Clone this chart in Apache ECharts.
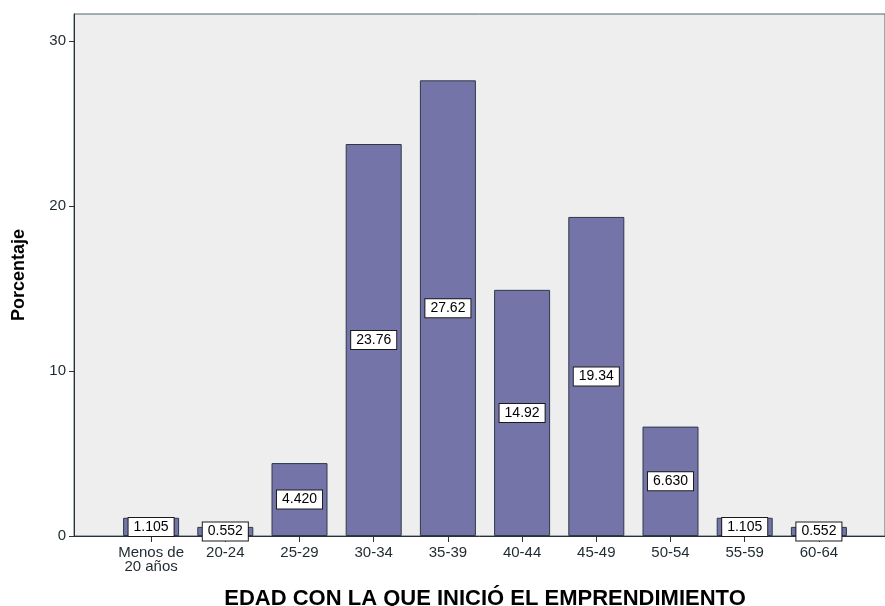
<!DOCTYPE html>
<html>
<head>
<meta charset="utf-8">
<script src="https://cdn.jsdelivr.net/npm/echarts@6/dist/echarts.min.js"></script>
<style>
  html, body { margin: 0; padding: 0; background: #ffffff; }
  #chart { width: 885px; height: 606px; }
</style>
</head>
<body>
<div id="chart"></div>
<script>
// Age groups at which the venture was started
const categories = ['Menos de\n20 años', '20-24', '25-29', '30-34', '35-39', '40-44', '45-49', '50-54', '55-59', '60-64'];
// Percentage of respondents in each group
const percentages = [1.105, 0.552, 4.420, 23.76, 27.62, 14.92, 19.34, 6.630, 1.105, 0.552];
// Y axis tick values
const yTicks = [0, 10, 20, 30];

const yMax = 31.64;
const fontFamily = 'Arial, "Liberation Sans", sans-serif';

// four significant digits, SPSS style
function fmt(v) {
  return v >= 10 ? v.toFixed(2) : v.toFixed(3);
}

const chart = echarts.init(document.getElementById('chart'));
chart.setOption({
  animation: false,
  backgroundColor: '#ffffff',
  grid: [
    {
      left: 74, top: 14, right: 0, bottom: 70, outerBoundsMode: 'none', containLabel: false,
      show: true, backgroundColor: '#eeeeee', borderColor: '#4b6470', borderWidth: 1
    },
    { left: 114, width: 742, top: 14, bottom: 70, outerBoundsMode: 'none', containLabel: false }
  ],
  xAxis: [
    {
      type: 'value', gridIndex: 0, min: 0, max: 1,
      axisLine: { show: true, lineStyle: { color: '#2a3238', width: 1 } },
      axisTick: { show: false }, axisLabel: { show: false }, splitLine: { show: false }
    },
    {
      type: 'category', gridIndex: 1, data: categories,
      axisLine: { show: false },
      axisTick: { show: true, alignWithLabel: true, length: 6, lineStyle: { color: '#2a3238' } },
      axisLabel: { color: '#1e2a30', fontSize: 15, fontFamily: fontFamily, margin: 10, lineHeight: 14, interval: 0 },
      name: 'EDAD CON LA QUE INICIÓ EL EMPRENDIMIENTO',
      nameLocation: 'middle', nameGap: 52,
      nameTextStyle: { color: '#000000', fontSize: 22, fontWeight: 'bold', fontFamily: fontFamily }
    }
  ],
  yAxis: [
    {
      type: 'value', gridIndex: 0, min: 0, max: yMax, interval: 10,
      axisLine: { show: true, lineStyle: { color: '#2a3238', width: 1 } },
      axisTick: { show: true, length: 5, customValues: yTicks, lineStyle: { color: '#2a3238' } },
      axisLabel: {
        color: '#1e2a30', fontSize: 15, fontFamily: fontFamily, margin: 8,
        customValues: yTicks
      },
      splitLine: { show: false },
      name: 'Porcentaje', nameLocation: 'middle', nameGap: 46,
      nameTextStyle: { color: '#000000', fontSize: 18, fontWeight: 'bold', fontFamily: fontFamily }
    },
    { type: 'value', gridIndex: 1, min: 0, max: yMax, show: false }
  ],
  series: [{
    type: 'bar',
    xAxisIndex: 1, yAxisIndex: 1,
    data: percentages,
    barWidth: 56,
    itemStyle: { color: '#7474a8', borderColor: '#2c3a48', borderWidth: 1 },
    label: {
      show: true, position: 'inside',
      formatter: function (p) { return fmt(p.value); },
      color: '#000000', fontSize: 14, fontFamily: fontFamily,
      backgroundColor: '#ffffff', borderColor: '#1a1a1a', borderWidth: 1,
      padding: [2, 5, 2, 5]
    }
  }]
});
</script>
</body>
</html>
